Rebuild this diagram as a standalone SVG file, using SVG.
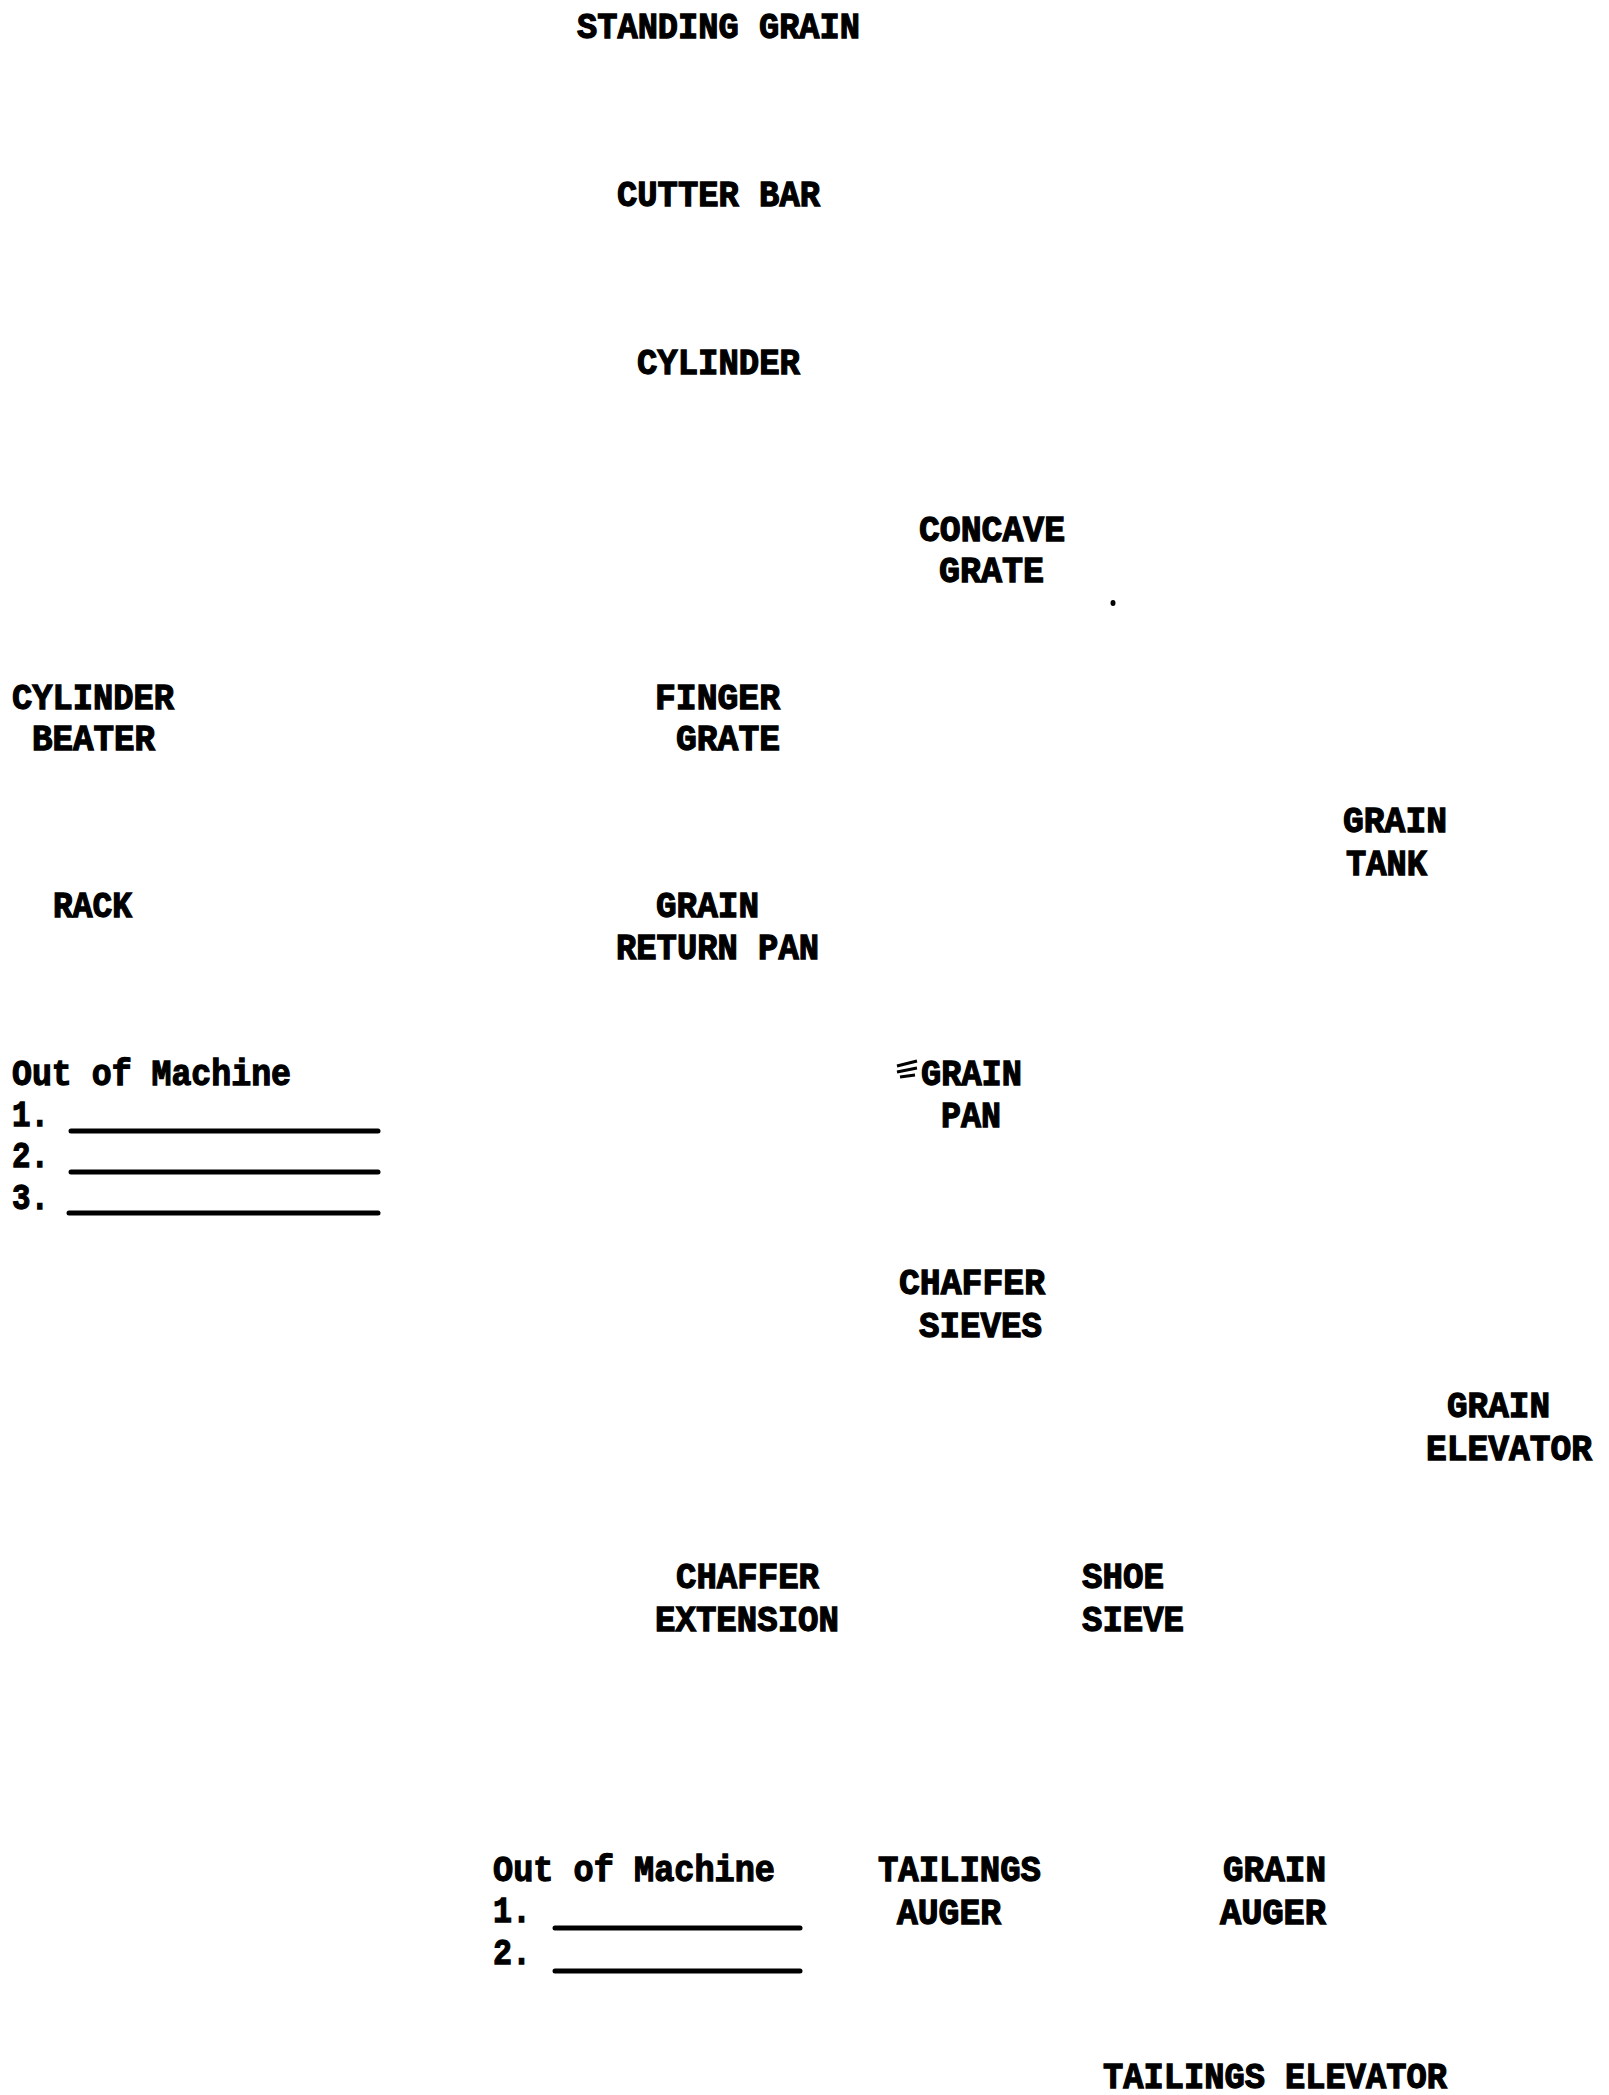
<svg xmlns="http://www.w3.org/2000/svg" width="1609" height="2095" viewBox="0 0 1609 2095">
<style>
.t { font-family: "Liberation Mono", "Courier New", monospace; font-weight: bold; font-size: 37px; fill: #000; stroke: #000; stroke-width: 1.3; }
.ln { stroke: #000; stroke-width: 5; stroke-linecap: round; fill: none; }
</style>
<rect width="1609" height="2095" fill="#fff"/>
<g id="connectors"></g>
<g id="standing-grain"><text class="t" x="577" y="38" textLength="283" lengthAdjust="spacingAndGlyphs">STANDING GRAIN</text></g>
<g id="cutter-bar"><text class="t" x="617" y="206" textLength="203" lengthAdjust="spacingAndGlyphs">CUTTER BAR</text></g>
<g id="cylinder"><text class="t" x="637" y="374" textLength="163" lengthAdjust="spacingAndGlyphs">CYLINDER</text></g>
<g id="concave-grate">
<text class="t" x="919" y="541" textLength="146" lengthAdjust="spacingAndGlyphs">CONCAVE</text>
<text class="t" x="939" y="582" textLength="105" lengthAdjust="spacingAndGlyphs">GRATE</text>
</g>
<g id="speck"><ellipse cx="1113" cy="603" rx="2.5" ry="3" fill="#000"/></g>
<g id="cylinder-beater">
<text class="t" x="12" y="709" textLength="162" lengthAdjust="spacingAndGlyphs">CYLINDER</text>
<text class="t" x="32" y="750" textLength="123" lengthAdjust="spacingAndGlyphs">BEATER</text>
</g>
<g id="finger-grate">
<text class="t" x="655" y="709" textLength="125" lengthAdjust="spacingAndGlyphs">FINGER</text>
<text class="t" x="676" y="750" textLength="104" lengthAdjust="spacingAndGlyphs">GRATE</text>
</g>
<g id="grain-tank">
<text class="t" x="1343" y="832" textLength="104" lengthAdjust="spacingAndGlyphs">GRAIN</text>
<text class="t" x="1346" y="875" textLength="81" lengthAdjust="spacingAndGlyphs">TANK</text>
</g>
<g id="rack"><text class="t" x="53" y="917" textLength="79" lengthAdjust="spacingAndGlyphs">RACK</text></g>
<g id="grain-return-pan">
<text class="t" x="656" y="917" textLength="103" lengthAdjust="spacingAndGlyphs">GRAIN</text>
<text class="t" x="616" y="959" textLength="203" lengthAdjust="spacingAndGlyphs">RETURN PAN</text>
</g>
<g id="out-of-machine-1">
<text class="t" x="12" y="1085" textLength="279" lengthAdjust="spacingAndGlyphs">Out of Machine</text>
<text class="t" x="12" y="1126" textLength="37" lengthAdjust="spacingAndGlyphs">1.</text>
<text class="t" x="12" y="1167" textLength="37" lengthAdjust="spacingAndGlyphs">2.</text>
<text class="t" x="12" y="1209" textLength="37" lengthAdjust="spacingAndGlyphs">3.</text>
<line class="ln" x1="71" y1="1131" x2="378" y2="1131"/>
<line class="ln" x1="71" y1="1172" x2="378" y2="1172"/>
<line class="ln" x1="69" y1="1213" x2="378" y2="1213"/>
</g>
<g id="grain-pan">
<path d="M897 1066 L917 1061 M897 1072 L917 1068 M900 1077 L915 1075" stroke="#000" stroke-width="3" fill="none"/>
<text class="t" x="921" y="1085" textLength="101" lengthAdjust="spacingAndGlyphs">GRAIN</text>
<text class="t" x="941" y="1127" textLength="60" lengthAdjust="spacingAndGlyphs">PAN</text>
</g>
<g id="chaffer-sieves">
<text class="t" x="899" y="1294" textLength="146" lengthAdjust="spacingAndGlyphs">CHAFFER</text>
<text class="t" x="919" y="1337" textLength="123" lengthAdjust="spacingAndGlyphs">SIEVES</text>
</g>
<g id="grain-elevator">
<text class="t" x="1447" y="1417" textLength="103" lengthAdjust="spacingAndGlyphs">GRAIN</text>
<text class="t" x="1426" y="1460" textLength="166" lengthAdjust="spacingAndGlyphs">ELEVATOR</text>
</g>
<g id="chaffer-extension">
<text class="t" x="676" y="1588" textLength="143" lengthAdjust="spacingAndGlyphs">CHAFFER</text>
<text class="t" x="655" y="1631" textLength="184" lengthAdjust="spacingAndGlyphs">EXTENSION</text>
</g>
<g id="shoe-sieve">
<text class="t" x="1082" y="1588" textLength="82" lengthAdjust="spacingAndGlyphs">SHOE</text>
<text class="t" x="1082" y="1631" textLength="102" lengthAdjust="spacingAndGlyphs">SIEVE</text>
</g>
<g id="out-of-machine-2">
<text class="t" x="493" y="1881" textLength="282" lengthAdjust="spacingAndGlyphs">Out of Machine</text>
<text class="t" x="493" y="1922" textLength="38" lengthAdjust="spacingAndGlyphs">1.</text>
<text class="t" x="493" y="1964" textLength="38" lengthAdjust="spacingAndGlyphs">2.</text>
<line class="ln" x1="555" y1="1928" x2="800" y2="1928"/>
<line class="ln" x1="555" y1="1971" x2="800" y2="1971"/>
</g>
<g id="tailings-auger">
<text class="t" x="878" y="1881" textLength="163" lengthAdjust="spacingAndGlyphs">TAILINGS</text>
<text class="t" x="897" y="1924" textLength="104" lengthAdjust="spacingAndGlyphs">AUGER</text>
</g>
<g id="grain-auger">
<text class="t" x="1223" y="1881" textLength="103" lengthAdjust="spacingAndGlyphs">GRAIN</text>
<text class="t" x="1220" y="1924" textLength="106" lengthAdjust="spacingAndGlyphs">AUGER</text>
</g>
<g id="tailings-elevator"><text class="t" x="1103" y="2088" textLength="344" lengthAdjust="spacingAndGlyphs">TAILINGS ELEVATOR</text></g>
</svg>
